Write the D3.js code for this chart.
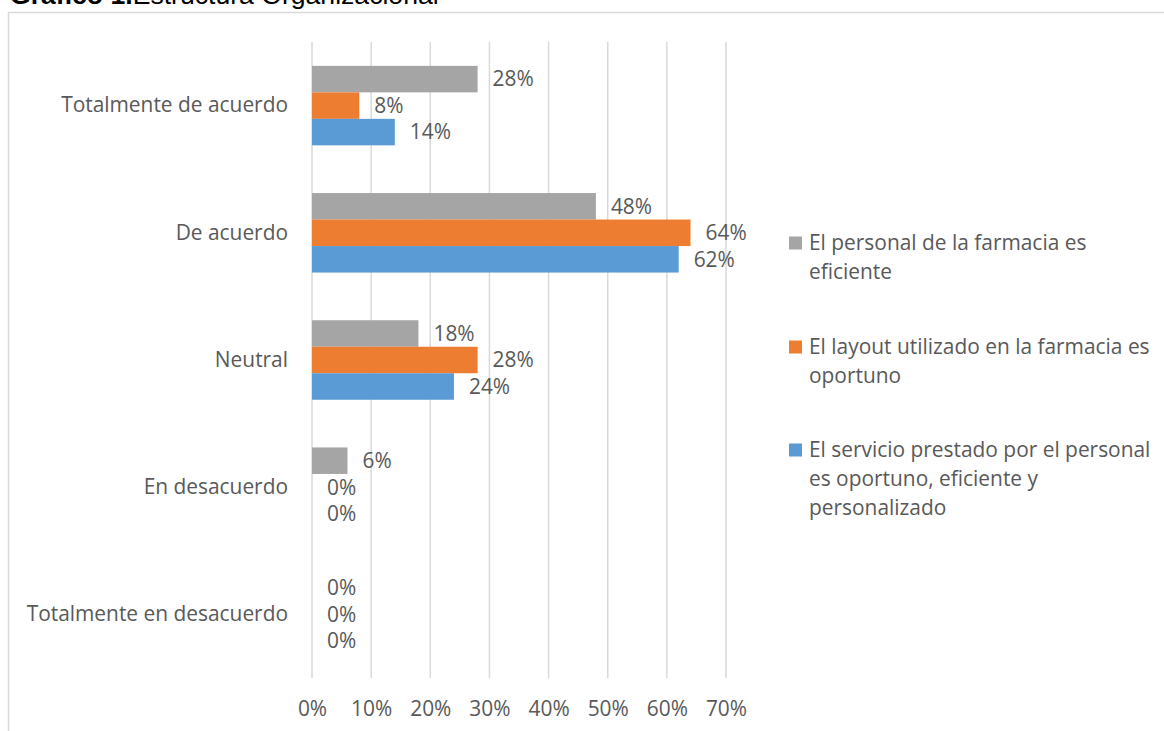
<!DOCTYPE html>
<html>
<head>
<meta charset="utf-8">
<script src="https://cdn.jsdelivr.net/npm/d3@7"></script>
<style>
  body { margin: 0; background: #fff; }
  svg { display: block; }
</style>
</head>
<body>
<svg id="chart" width="1164" height="731"></svg>
<script>
// categories, top to bottom
var categories = ["Totalmente de acuerdo", "De acuerdo", "Neutral", "En desacuerdo", "Totalmente en desacuerdo"];

// series, in drawing order inside each group (top to bottom)
var seriesNames = [
    "El personal de la farmacia es eficiente",
    "El layout utilizado en la farmacia es oportuno",
    "El servicio prestado por el personal es oportuno, eficiente y personalizado"
];
var seriesColors = ["#A5A5A5", "#ED7D31", "#5B9BD5"];

var personalValues = [28, 48, 18, 6, 0];
var layoutValues   = [8, 64, 28, 0, 0];
var servicioValues = [14, 62, 24, 0, 0];
var seriesValues = [personalValues, layoutValues, servicioValues];

var xTicks = [0, 10, 20, 30, 40, 50, 60, 70];

// legend text broken in lines as in the picture
var legendLines = [
    ["El personal de la farmacia es", "eficiente"],
    ["El layout utilizado en la farmacia es", "oportuno"],
    ["El servicio prestado por el personal", "es oportuno, eficiente y", "personalizado"]
];

var font = "'Open Sans', sans-serif";
var fontSize = "20.9px";
var textColor = "#595959";
var svg = d3.select("#chart");

// title, mostly cut off at the top of the page
var title = svg.append("text")
    .attr("x", 10)
    .attr("y", 4)
    .style("font-family", "Arial, 'Liberation Sans', sans-serif")
    .style("font-size", "26.6px")
    .style("fill", "#000");
title.append("tspan").style("font-weight", "bold").text("Gráfico 1.");
title.append("tspan").text("Estructura Organizacional");

// chart frame (runs off the right and bottom)
svg.append("rect")
    .attr("x", 8.5).attr("y", 12.5)
    .attr("width", 1200).attr("height", 800)
    .style("fill", "none")
    .style("stroke", "#d9d9d9")
    .style("stroke-width", 1.5);

var x = d3.scaleLinear().domain([0, 70]).range([312, 726]);
var y = d3.scaleBand().domain(categories).range([42, 678]).paddingInner(0).paddingOuter(0);
var inner = d3.scaleBand().domain(d3.range(seriesNames.length))
    .range([0, y.bandwidth()]).paddingInner(0).paddingOuter(0.9);

// gridlines
svg.append("g").selectAll("line")
    .data(xTicks)
    .enter().append("line")
    .attr("x1", function(d){ return x(d); })
    .attr("x2", function(d){ return x(d); })
    .attr("y1", 42).attr("y2", 678)
    .style("stroke", "#d9d9d9")
    .style("stroke-width", 1.5);

// x axis labels
var xAxis = svg.append("g")
    .attr("transform", "translate(0,678)")
    .call(d3.axisBottom(x).tickValues(xTicks).tickFormat(function(d){ return d + "%"; }).tickSize(0).tickPadding(23));
xAxis.select(".domain").remove();
xAxis.selectAll("text")
    .style("font-family", font)
    .style("font-size", fontSize)
    .style("fill", textColor);

// category labels
var yAxis = svg.append("g")
    .attr("transform", "translate(312,0)")
    .call(d3.axisLeft(y).tickSize(0).tickPadding(24));
yAxis.select(".domain").remove();
yAxis.selectAll("text")
    .style("font-family", font)
    .style("font-size", fontSize)
    .style("fill", textColor);

// bars and value labels
seriesValues.forEach(function(values, s){
    var g = svg.append("g");
    g.selectAll("rect")
        .data(values)
        .enter().append("rect")
        .attr("x", x(0))
        .attr("y", function(d, i){ return y(categories[i]) + inner(s); })
        .attr("width", function(d){ return x(d) - x(0); })
        .attr("height", inner.bandwidth())
        .style("fill", seriesColors[s]);

    g.selectAll("text")
        .data(values)
        .enter().append("text")
        .attr("x", function(d){ return x(d) + 15; })
        .attr("y", function(d, i){ return y(categories[i]) + inner(s) + inner.bandwidth() / 2; })
        .attr("dy", "0.35em")
        .style("font-family", font)
        .style("font-size", fontSize)
        .style("fill", textColor)
        .text(function(d){ return d + "%"; });
});

// legend
var legendTop = [243, 347, 450];
legendLines.forEach(function(lines, s){
    var lg = svg.append("g").attr("transform", "translate(789," + legendTop[s] + ")");
    lg.append("rect")
        .attr("x", 0).attr("y", -6.5)
        .attr("width", 13).attr("height", 13)
        .style("fill", seriesColors[s]);
    lg.selectAll("text")
        .data(lines)
        .enter().append("text")
        .attr("x", 20)
        .attr("y", function(d, i){ return i * 29; })
        .attr("dy", "0.35em")
        .style("font-family", font)
        .style("font-size", fontSize)
        .style("fill", textColor)
        .text(function(d){ return d; });
});
</script>
</body>
</html>
